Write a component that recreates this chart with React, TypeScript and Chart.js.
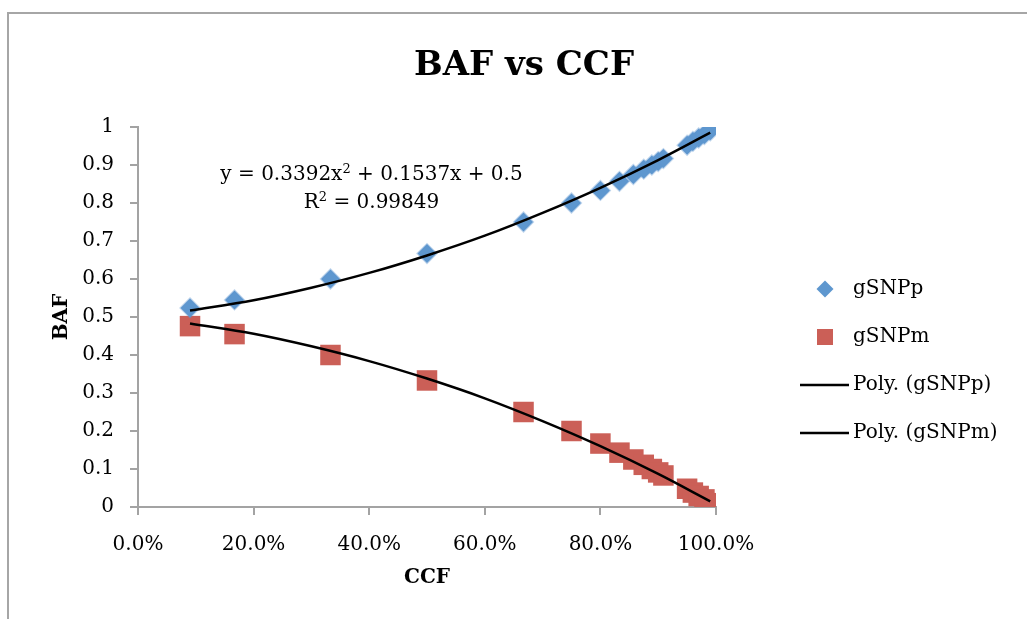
import React, { useEffect, useRef } from 'react';
import { Chart, registerables } from 'chart.js';

Chart.register(...registerables);

// ---- data ----
const ccf = [0.09, 0.167, 0.333, 0.5, 0.667, 0.75, 0.8, 0.833, 0.857, 0.875, 0.889, 0.9, 0.909, 0.95, 0.96, 0.97, 0.98, 0.99];
const gSNPp = [0.524, 0.545, 0.6, 0.667, 0.75, 0.8, 0.833, 0.857, 0.875, 0.889, 0.9, 0.909, 0.917, 0.952, 0.962, 0.971, 0.98, 0.99];
const gSNPm = [0.476, 0.455, 0.4, 0.333, 0.25, 0.2, 0.167, 0.143, 0.125, 0.111, 0.1, 0.091, 0.083, 0.048, 0.038, 0.029, 0.02, 0.01];

const trendCcf = [0.09, 0.2, 0.3, 0.4, 0.5, 0.6, 0.7, 0.8, 0.9, 0.99];
const polyP = [0.517, 0.544, 0.577, 0.616, 0.662, 0.714, 0.774, 0.84, 0.913, 0.985];
const polyM = [0.483, 0.456, 0.423, 0.384, 0.338, 0.286, 0.226, 0.16, 0.087, 0.015];

const seriesLabels = ['gSNPp', 'gSNPm', 'Poly. (gSNPp)', 'Poly. (gSNPm)'];
const chartTitle = 'BAF vs CCF';
const xTitle = 'CCF';
const yTitle = 'BAF';
const equationLine1 = [
  { t: 'y = 0.3392x' },
  { t: '2', sup: true },
  { t: ' + 0.1537x + 0.5' },
];
const equationLine2 = [
  { t: 'R' },
  { t: '2', sup: true },
  { t: ' = 0.99849' },
];

// ---- styles ----
const FONT = '"DejaVu Serif", serif';
const BLUE = '#5E97CF';
const RED = '#CB5F57';
const AXIS = '#A3A3A3';

const pts = (xs: number[], ys: number[]) => xs.map((x, i) => ({ x, y: ys[i] }));

function drawRich(ctx: CanvasRenderingContext2D, parts: { t: string; sup?: boolean }[], cx: number, baseY: number) {
  const base = `20px ${FONT}`;
  const sup = `13px ${FONT}`;
  let w = 0;
  parts.forEach((p) => {
    ctx.font = p.sup ? sup : base;
    w += ctx.measureText(p.t).width;
  });
  let x = cx - w / 2;
  ctx.textBaseline = 'alphabetic';
  ctx.textAlign = 'left';
  parts.forEach((p) => {
    ctx.font = p.sup ? sup : base;
    ctx.fillText(p.t, x, p.sup ? baseY - 7 : baseY);
    x += ctx.measureText(p.t).width;
  });
}

const titlePlugin = {
  id: 'chartTitleText',
  afterDraw(chart: any) {
    const ctx = chart.ctx as CanvasRenderingContext2D;
    ctx.save();
    ctx.fillStyle = '#000';
    ctx.font = `bold 34px ${FONT}`;
    ctx.textAlign = 'center';
    ctx.textBaseline = 'middle';
    ctx.fillText(chartTitle, 524, 66);
    ctx.restore();
  },
};

const annotationPlugin = {
  id: 'trendLabel',
  afterDraw(chart: any) {
    const ctx = chart.ctx as CanvasRenderingContext2D;
    const xs = chart.scales.x;
    const ys = chart.scales.y;
    ctx.save();
    ctx.fillStyle = '#000';
    const cx = xs.getPixelForValue(0.404);
    drawRich(ctx, equationLine1, cx, ys.getPixelForValue(0.86));
    drawRich(ctx, equationLine2, cx, ys.getPixelForValue(0.7865));
    ctx.restore();
  },
};

const legendPlugin = {
  id: 'customLegend',
  afterDraw(chart: any) {
    const ctx = chart.ctx as CanvasRenderingContext2D;
    const ds = chart.data.datasets;
    const rowTop = 289;
    const rowGap = 48;
    const markerX = 825;
    const textX = 853;
    ctx.save();
    ds.forEach((d: any, i: number) => {
      const y = rowTop + i * rowGap;
      if (d.showLine) {
        ctx.strokeStyle = d.borderColor;
        ctx.lineWidth = 2.5;
        ctx.beginPath();
        ctx.moveTo(800, y);
        ctx.lineTo(849, y);
        ctx.stroke();
      } else if (d.pointStyle === 'rectRot') {
        const r = 8.5;
        ctx.fillStyle = d.backgroundColor;
        ctx.beginPath();
        ctx.moveTo(markerX - r, y);
        ctx.lineTo(markerX, y - r);
        ctx.lineTo(markerX + r, y);
        ctx.lineTo(markerX, y + r);
        ctx.closePath();
        ctx.fill();
      } else {
        ctx.fillStyle = d.backgroundColor;
        ctx.fillRect(markerX - 8, y - 8, 16, 16);
      }
      ctx.fillStyle = '#000';
      ctx.font = `20px ${FONT}`;
      ctx.textBaseline = 'middle';
      ctx.textAlign = 'left';
      ctx.fillText(d.label, textX, y);
    });
    ctx.restore();
  },
};

export default function App() {
  const ref = useRef<HTMLCanvasElement | null>(null);

  useEffect(() => {
    if (!ref.current) return;
    const chart = new Chart(ref.current, {
      type: 'scatter',
      data: {
        datasets: [
          {
            label: seriesLabels[0],
            data: pts(ccf, gSNPp),
            pointStyle: 'rectRot',
            pointRadius: 9.5,
            pointHoverRadius: 9.5,
            backgroundColor: BLUE,
            borderColor: 'rgba(94,151,207,0.4)',
            borderWidth: 2,
            order: 2,
          },
          {
            label: seriesLabels[1],
            data: pts(ccf, gSNPm),
            pointStyle: 'rect',
            pointRadius: 14.5,
            pointHoverRadius: 14.5,
            backgroundColor: RED,
            borderColor: RED,
            borderWidth: 0,
            order: 2,
          },
          {
            label: seriesLabels[2],
            data: pts(trendCcf, polyP),
            showLine: true,
            pointRadius: 0,
            borderColor: '#000',
            backgroundColor: '#000',
            borderWidth: 2.5,
            cubicInterpolationMode: 'monotone',
            order: 1,
          },
          {
            label: seriesLabels[3],
            data: pts(trendCcf, polyM),
            showLine: true,
            pointRadius: 0,
            borderColor: '#000',
            backgroundColor: '#000',
            borderWidth: 2.5,
            cubicInterpolationMode: 'monotone',
            order: 1,
          },
        ] as any,
      },
      options: {
        responsive: false,
        maintainAspectRatio: false,
        animation: false,
        devicePixelRatio: 1,
        layout: { padding: { left: 0, top: 127, right: 311, bottom: 0 } },
        plugins: {
          legend: { display: false },
          tooltip: { enabled: false },
          title: { display: false },
        },
        scales: {
          x: {
            type: 'linear',
            min: 0,
            max: 1,
            ticks: {
              stepSize: 0.2,
              autoSkip: false,
              maxRotation: 0,
              color: '#000',
              padding: 18,
              font: { family: FONT, size: 20 },
              callback: (v: any) => (Number(v) * 100).toFixed(1) + '%',
            },
            grid: { drawOnChartArea: false, drawTicks: true, tickLength: 8, color: AXIS, lineWidth: 2 },
            border: { display: true, color: AXIS, width: 2 },
            title: {
              display: true,
              text: xTitle,
              color: '#000',
              font: { family: FONT, size: 20, weight: 'bold' },
              padding: { top: 0, bottom: 29 },
            },
            afterFit: (s: any) => {
              s.height = 112;
            },
          },
          y: {
            type: 'linear',
            min: 0,
            max: 1,
            ticks: {
              stepSize: 0.1,
              color: '#000',
              padding: 16,
              font: { family: FONT, size: 20 },
              callback: (v: any) => String(Number(Number(v).toFixed(1))),
            },
            grid: { drawOnChartArea: false, drawTicks: true, tickLength: 8, color: AXIS, lineWidth: 2 },
            border: { display: true, color: AXIS, width: 2 },
            title: {
              display: true,
              text: yTitle,
              color: '#000',
              font: { family: FONT, size: 20, weight: 'bold' },
              padding: { top: 50, bottom: 0 },
            },
            afterFit: (s: any) => {
              s.width = 138;
            },
          },
        },
      } as any,
      plugins: [titlePlugin, annotationPlugin, legendPlugin],
    });
    return () => chart.destroy();
  }, []);

  return (
    <div style={{ position: 'fixed', left: 0, top: 0, width: 1027, height: 619, overflow: 'hidden', background: '#fff' }}>
      <div
        style={{
          position: 'absolute',
          left: 7,
          top: 12,
          width: 1100,
          height: 700,
          borderTop: '2px solid #A6A6A6',
          borderLeft: '2px solid #A6A6A6',
        }}
      />
      <canvas
        ref={ref}
        width={1027}
        height={619}
        style={{ position: 'absolute', left: 0, top: 0, width: 1027, height: 619 }}
      />
    </div>
  );
}
